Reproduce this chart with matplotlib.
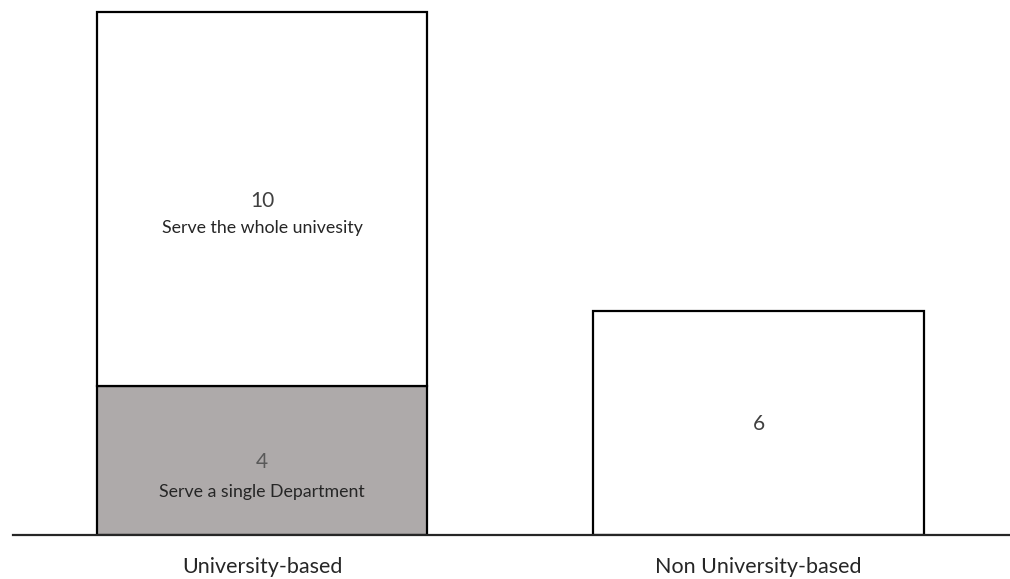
import matplotlib.pyplot as plt

categories = ["University-based", "Non University-based"]
single_dept = [4, 0]
whole_uni = [10, 6]
segment_notes = ["Serve a single Department", "Serve the whole univesity"]

plt.rcParams['font.family'] = ['Lato', 'DejaVu Sans']

fig = plt.figure(figsize=(10.10, 5.79), dpi=100)
ax = fig.add_axes([13 / 1010, 44 / 579, 997 / 1010, 535 / 579])

x = range(len(categories))
width = 0.665

ax.bar(x[0], single_dept[0], width=width, color="#AEAAAA", edgecolor="black", linewidth=1.6)
ax.bar(x, whole_uni, width=width, bottom=single_dept, color="white", edgecolor="black", linewidth=1.6)

# value + description inside the university-based stack
ax.text(0, single_dept[0] / 2 - 0.05, str(single_dept[0]), ha="center", va="center", fontsize=15, color="#595959")
ax.text(0, single_dept[0] / 2 - 0.85, segment_notes[0], ha="center", va="center", fontsize=12.8, color="#262626")
mid = single_dept[0] + whole_uni[0] / 2
ax.text(0, mid - 0.07, str(whole_uni[0]), ha="center", va="center", fontsize=15, color="#404040")
ax.text(0, mid - 0.79, segment_notes[1], ha="center", va="center", fontsize=12.8, color="#262626")

ax.text(1, whole_uni[1] / 2 - 0.04, str(whole_uni[1]), ha="center", va="center", fontsize=15, color="#404040")

ax.set_xlim(-0.5015, 1.5065)
ax.set_ylim(0, 14.32)
ax.set_xticks(list(x))
ax.set_xticklabels(categories, fontsize=15.5, color="#262626")
ax.tick_params(axis="x", length=0, pad=16)
ax.set_yticks([])

for side in ["top", "left", "right"]:
    ax.spines[side].set_visible(False)
ax.spines["bottom"].set_linewidth(1.6)
ax.spines["bottom"].set_color("#262626")

fig.savefig("out.png", dpi=100)
plt.close(fig)
